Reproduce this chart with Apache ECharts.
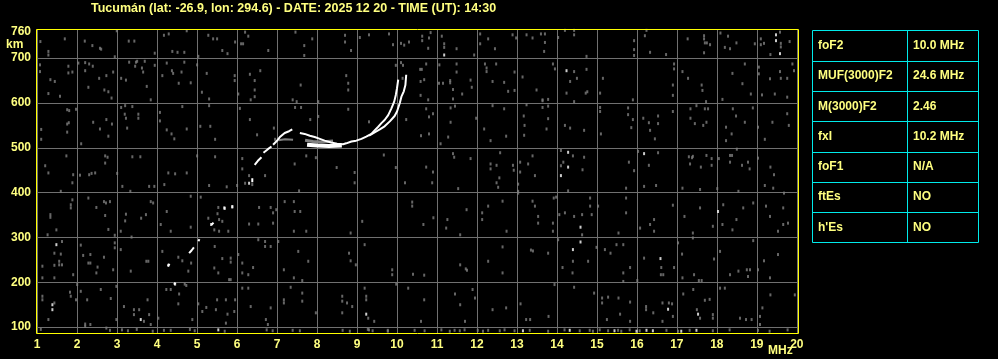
<!DOCTYPE html>
<html><head><meta charset="utf-8">
<script src="https://cdn.jsdelivr.net/npm/echarts@6/dist/echarts.min.js"></script>
<style>html,body{margin:0;padding:0;background:#000;}#c{width:998px;height:359px;}</style>
</head><body><div id="c"></div>
<script>
const titleText = 'Tucumán (lat: -26.9, lon: 294.6) - DATE: 2025 12 20 - TIME (UT): 14:30';
const freqTicks = [1,2,3,4,5,6,7,8,9,10,11,12,13,14,15,16,17,18,19,20];
const heightTicks = [100,200,300,400,500,600,700];
const heightLabels = [100,200,300,400,500,600,700,760];
const xUnit = 'MHz';
const yUnit = 'km';
const tableLabels = ['foF2','MUF(3000)F2','M(3000)F2','fxI','foF1','ftEs',"h'Es"];
const tableValues = ['10.0 MHz','24.6 MHz','2.46','10.2 MHz','N/A','NO','NO'];

// echo trace (O mode) segments, frequency MHz / virtual height km
const traceLow = [[4.27,236],[4.31,241],null,[4.42,195],[4.46,199],null,[4.8,265],[4.86,271],[4.92,278],null,[5.03,292],[5.06,296],null,[5.36,328],[5.41,333],null,[6.38,423],[6.38,432],null,[6.44,462],[6.52,471],[6.61,479],null,[6.66,489],[6.77,497],[6.86,503]];
const traceHook = [[6.9,507],[6.98,514],[7.07,524],[7.19,533],[7.3,537],[7.38,541]];
const grayHook = [[7.03,517],[7.2,519],[7.4,518]];
const traceMain = [[7.57,533],[7.69,531],[7.82,527],[7.94,524],[8.07,520],[8.19,516],[8.35,512],[8.5,509],[8.65,508],[8.73,510],[8.86,514],[8.98,516],[9.11,520],[9.23,525],[9.36,531],[9.44,539],[9.53,547],[9.61,555],[9.69,562],[9.78,573],[9.86,588],[9.93,603],[9.97,618],[10.0,633],[10.03,652]];
const traceX = [[9.3,527],[9.45,535],[9.57,541],[9.69,548],[9.82,559],[9.94,571],[10.0,581],[10.07,600],[10.11,614],[10.17,626],[10.21,640],[10.23,663]];
const traceBand = [[7.75,507],[8.0,505],[8.3,504],[8.62,505]];
const grayBand = [[7.7,517],[7.9,514],[8.1,513],[8.4,515]];

const noise = [
[1.08,737],[1.28,715],[1.28,707],[1.69,743],[2.19,738],[2.38,728],[2.57,722],[2.6,720],[2.94,703],[2.99,761],[3.29,738],[3.43,738],[3.94,711],[4.17,751],[4.29,754],[4.38,715],[4.51,713],[4.68,713],[4.74,761],[5.03,704],[5.28,751],[5.4,743],[5.5,743],[5.63,717],[5.76,710],[5.95,736],[6.1,732],[6.15,732],[6.2,758],[6.28,749],[6.78,717],[7.46,758],[7.68,728],[7.68,706],[7.88,743],[8.7,751],[8.7,736],[8.85,717],[9.07,746],[9.3,752],[9.8,754],[9.9,730],[10.1,733],[10.18,729],[10.3,736],
[1.07,685],[1.07,670],[1.33,652],[1.44,648],[1.28,621],[1.57,615],[1.78,682],[1.78,667],[1.88,669],[2.03,689],[2.2,690],[2.3,687],[2.2,672],[2.28,635],[2.39,682],[2.55,655],[2.73,661],[2.68,629],[2.78,625],[2.9,669],[2.86,611],[3.1,655],[3.22,651],[3.3,691],[3.47,691],[3.45,682],[3.5,693],[3.62,678],[3.69,693],[3.65,669],[3.74,637],[3.84,607],[3.94,684],[4.13,661],[4.24,689],[4.37,672],[4.4,666],[4.54,644],[4.61,669],[4.68,691],[4.84,645],[5.0,685],[5.12,624],[5.24,666],[5.3,609],[5.94,661],[5.94,650],[6.03,620],[6.32,664],[6.44,650],[6.44,629],[6.58,672],[6.44,614],[6.34,607],[7.39,607],[7.49,603],[7.59,640],[8.03,603],[8.73,661],[8.78,644],[8.78,629],[9.97,684],[10.1,690],[10.15,684],[10.14,655],
[1.1,541],[1.1,519],[1.75,585],[1.75,553],[1.79,556],[1.8,583],[1.97,586],[1.75,535],[2.1,509],[2.4,557],[2.57,542],[2.73,563],[2.78,526],[2.87,553],[3.1,590],[3.2,594],[3.22,566],[3.25,544],[3.19,575],[3.38,592],[3.53,575],[3.53,566],[4.07,579],[4.07,560],[4.24,540],[4.36,531],[4.43,520],[4.63,592],[4.74,542],[5.08,548],[5.3,594],[5.33,548],[5.45,519],[6.07,588],[6.32,563],[6.5,529],[6.92,544],[6.95,519],[7.45,590],[7.6,590],[7.83,563],[8.03,570],[8.78,586],[9.3,558],[10.23,563],
[1.2,460],[1.28,444],[1.73,482],[1.9,440],[2.07,439],[2.3,440],[2.36,443],[2.45,444],[2.7,482],[2.76,479],[2.7,466],[3.0,443],[3.38,480],[3.58,480],[4.28,444],[4.45,442],[4.74,444],[5.0,482],[5.45,480],[6.13,476],[6.13,453],[6.3,438],[6.7,438],[7.44,464],[7.73,482],[7.97,478],[8.49,456],[8.94,445],[9.67,484],[9.97,456],
[10.63,749],[10.63,739],[10.8,745],[10.84,757],[10.78,722],[11.12,749],[11.18,732],[11.18,724],[11.49,721],[11.93,707],[12.08,754],[12.08,732],[12.28,743],[12.45,721],[12.89,752],[12.98,745],[13.24,752],[13.39,745],[13.6,754],[13.7,754],[13.7,735],[13.68,715],[14.03,746],[14.2,762],[14.43,762],[14.43,752],[14.74,704],[15.93,739],[15.93,719],[15.93,706],[16.2,750],[16.24,762],[16.33,713],[16.73,708],[17.27,743],[17.68,750],[17.68,743],[17.7,734],[17.75,734],[17.83,730],[17.68,712],[18.09,756],[18.28,749],[18.49,734],[18.2,724],[18.33,721],[18.95,732],[19.1,730],[19.18,733],[19.1,743],[19.58,758],[19.34,708],[19.6,733],[19.6,725],[19.82,737],
[10.58,675],[10.62,675],[10.73,687],[10.59,648],[10.68,652],[10.59,617],[10.78,607],[11.06,685],[11.05,644],[11.15,644],[11.33,645],[11.33,650],[11.49,687],[11.49,669],[11.4,630],[11.4,609],[11.63,620],[11.84,651],[11.87,635],[12.2,687],[12.24,678],[12.24,670],[12.48,687],[12.39,648],[12.68,646],[12.78,626],[12.94,628],[12.94,669],[13.14,658],[13.49,629],[13.64,607],[13.78,608],[13.9,687],[13.95,676],[14.43,670],[14.33,648],[14.5,655],[14.74,675],[14.72,622],[14.76,625],[14.24,622],[14.43,603],[15.15,655],[15.08,622],[15.9,607],[16.93,687],[16.93,676],[16.9,640],[16.9,617],[17.14,670],[17.28,655],[17.62,640],[17.64,628],[17.73,603],[18.14,608],[18.39,666],[18.64,643],[18.7,687],[18.85,620],[19.05,680],[19.05,665],[19.13,618],[19.33,654],[19.45,620],[19.58,670],[19.6,655],[19.76,655],[19.76,613],[19.89,687],[19.93,672],
[10.73,587],[10.9,576],[10.8,569],[11.34,589],[11.45,593],[11.34,557],[10.6,527],[10.8,531],[11.09,509],[11.28,524],[11.98,566],[12.18,542],[12.39,594],[12.68,587],[12.34,516],[12.73,526],[13.24,596],[13.17,571],[13.19,550],[13.18,528],[13.64,605],[13.64,590],[13.78,593],[13.78,565],[13.74,542],[14.2,550],[14.33,544],[14.68,539],[15.08,590],[15.08,581],[15.1,531],[15.78,589],[15.78,574],[15.9,563],[15.86,545],[16.16,566],[16.3,556],[16.33,539],[16.45,520],[16.53,571],[16.53,554],[16.9,581],[17.34,587],[17.34,566],[17.49,594],[17.7,587],[17.78,587],[17.45,554],[17.66,550],[17.74,557],[18.23,546],[18.23,516],[18.37,531],[18.4,587],[18.48,571],[18.7,557],[18.9,589],[19.03,546],[19.2,519],[19.39,557],[19.76,576],[19.8,550],
[10.73,457],[10.9,446],[11.4,487],[11.43,479],[11.84,476],[12.34,464],[12.34,453],[12.49,461],[12.58,489],[12.56,433],[12.9,461],[12.92,450],[13.08,468],[13.08,446],[13.28,464],[13.39,482],[13.45,438],[14.1,494],[14.1,460],[14.16,468],[14.4,482],[14.68,479],[14.64,451],[15.8,468],[15.93,449],[16.03,492],[16.3,461],[16.53,489],[17.3,480],[17.38,478],[17.4,481],[17.33,464],[17.6,457],[17.74,483],[17.87,476],[17.87,461],[18.05,476],[18.33,483],[18.38,483],[18.33,468],[18.5,497],[18.63,461],[18.78,468],[18.82,453],[19.03,477],[19.34,457],[19.43,440],
[1.59,403],[1.88,422],[3.13,414],[3.8,414],[3.93,414],[4.18,418],[5.3,416],[5.74,413],[6.0,416],[6.2,421],[6.38,418],[7.55,404],[8.94,422],[10.2,422],
[1.33,351],[1.33,345],[1.26,306],[1.48,317],[1.84,373],[1.84,366],[1.88,384],[2.28,388],[2.48,367],[2.67,380],[2.72,377],[2.7,349],[2.82,380],[2.78,318],[2.94,305],[3.22,352],[3.2,337],[3.33,403],[3.36,301],[3.09,314],[3.6,343],[3.72,351],[3.84,380],[3.9,377],[4.09,329],[4.24,358],[4.34,314],[4.84,392],[4.84,323],[5.09,390],[5.28,343],[5.51,353],[5.53,367],[5.55,340],[5.63,336],[5.78,314],[5.55,314],[5.43,317],[6.3,330],[6.53,330],[6.55,367],[6.84,367],[6.9,355],[6.9,332],[6.98,362],[7.19,380],[7.42,380],[7.44,358],[7.58,358],[7.42,314],[7.73,314],[8.84,310],[9.13,336],[10.38,379],[10.38,370],
[1.62,291],[1.43,265],[1.59,263],[1.55,247],[1.55,239],[1.62,239],[1.13,236],[1.43,238],[1.13,210],[1.43,210],[1.9,217],[2.09,283],[2.15,260],[2.28,243],[2.33,243],[2.33,262],[2.48,221],[2.51,234],[2.67,256],[2.9,228],[2.94,288],[2.94,277],[3.09,273],[3.34,225],[3.73,247],[3.78,247],[4.13,269],[4.53,256],[4.63,248],[4.85,243],[4.78,225],[5.44,280],[5.43,232],[5.53,221],[5.8,206],[5.84,206],[5.63,253],[5.84,254],[5.84,245],[6.03,262],[6.13,243],[6.13,221],[6.28,217],[6.4,233],[6.53,295],[6.7,291],[6.7,280],[6.84,280],[7.03,291],[7.17,228],[7.42,210],[7.53,269],[7.63,204],[7.78,247],[8.8,265],[8.84,248],[8.97,239],[9.19,284],[9.88,228],[9.88,217],[10.4,218],
[1.13,169],[1.13,161],[1.43,154],[1.28,117],[1.82,178],[1.84,169],[1.97,161],[2.0,195],[2.09,180],[2.2,107],[2.2,102],[2.33,106],[2.25,161],[2.59,184],[2.73,98],[2.84,164],[2.98,191],[2.98,117],[3.17,146],[3.12,94],[3.42,139],[3.42,128],[3.55,139],[3.67,113],[3.8,128],[3.76,161],[3.84,106],[4.03,120],[4.23,184],[4.34,184],[4.55,174],[4.53,152],[4.69,196],[4.73,193],[4.88,117],[5.03,152],[5.13,135],[5.23,144],[5.47,139],[5.5,161],[5.72,161],[5.95,161],[5.76,129],[5.93,135],[5.72,109],[6.13,187],[6.28,187],[6.34,146],[6.72,117],[6.77,106],[6.84,143],[7.17,161],[7.17,154],[7.34,189],[7.63,176],[7.63,158],[7.97,132],[8.63,169],[8.63,158],[8.63,132],[8.75,154],[8.88,146],[9.19,187],[9.23,169],[9.23,161],[9.28,120],[9.43,113],[9.3,94],[9.77,91],[9.98,196],[10.28,187],
[10.88,422],[11.53,409],[12.49,422],[12.53,412],[13.03,419],[13.03,403],[14.28,404],[15.73,410],[16.18,414],[16.48,416],[17.14,410],[17.58,407],[18.01,409],[18.54,403],[19.2,416],[19.41,410],[19.68,399],
[10.66,329],[10.91,344],[11.26,340],[11.23,321],[11.58,306],[11.74,362],[12.13,355],[12.13,340],[12.28,370],[12.64,381],[12.74,314],[13.03,399],[13.39,381],[13.45,370],[13.53,347],[13.53,332],[13.92,388],[13.98,390],[13.9,332],[13.9,314],[14.06,351],[14.2,355],[14.43,347],[14.63,351],[14.63,306],[14.83,388],[14.83,370],[14.87,351],[15.03,370],[15.73,388],[15.73,355],[15.54,310],[16.08,321],[16.33,329],[16.43,340],[16.43,314],[16.9,372],[17.19,347],[17.4,310],[17.4,299],[17.58,366],[17.9,325],[18.16,373],[18.14,329],[18.39,317],[18.49,340],[18.66,366],[18.91,377],[19.23,370],[19.33,347],[19.53,314],[19.66,366],[19.66,329],[19.78,332],
[10.68,216],[11.58,239],[11.72,230],[11.75,227],[12.28,247],[12.64,279],[12.64,221],[13.35,272],[13.4,270],[13.78,265],[14.03,295],[14.14,233],[14.4,247],[14.78,247],[14.39,221],[14.99,278],[15.2,273],[15.34,265],[15.49,284],[15.66,284],[15.66,221],[15.66,202],[15.83,233],[16.01,204],[16.18,254],[16.6,217],[16.66,217],[16.61,233],[16.93,233],[17.03,288],[17.13,263],[17.14,210],[17.43,217],[17.55,204],[17.62,204],[17.93,252],[18.08,269],[18.33,217],[18.54,225],[18.75,228],[18.83,228],[18.78,213],[18.91,293],[19.03,228],[19.18,248],[19.33,210],[19.53,262],
[10.68,161],[10.6,113],[11.45,174],[11.58,150],[11.7,113],[11.89,184],[11.95,165],[12.39,139],[12.73,143],[13.09,152],[13.23,117],[13.33,117],[13.79,124],[13.94,195],[14.43,189],[14.93,176],[15.13,165],[15.13,154],[15.28,167],[15.54,165],[15.83,156],[15.25,117],[15.58,129],[15.83,113],[16.23,146],[16.23,139],[16.41,132],[16.64,154],[16.64,113],[16.8,154],[16.88,152],[16.9,124],[17.16,174],[17.41,184],[17.58,120],[17.5,139],[17.7,160],[17.82,162],[17.9,128],[17.9,120],[18.08,187],[18.2,187],[18.58,120],[18.73,117],[18.87,117],[19.08,124],[19.08,106],[19.14,143],[19.34,172],[19.95,172],
[1.09,95],[2.82,93],[3.27,92],[3.49,95],[3.89,91],[4.17,93],[4.34,93],[4.82,95],[4.94,92],[5.69,91],[6.74,94],[6.89,92],[7.39,93],[7.57,92],[8.64,93],[8.82,91],[9.27,95],[9.39,92],[9.77,93],[10.44,93],[10.69,92],[11.11,94],[11.32,91],[11.44,93],[11.57,92],[11.69,94],[12.02,93],[12.15,91],[12.28,93],[12.57,92],[12.69,94],[12.94,92],[13.32,93],[13.78,91],[14.19,94],[14.57,92],[14.82,93],[14.9,91],[15.07,94],[15.28,92],[15.53,93],[15.61,91],[15.82,94],[16.07,92],[16.74,93],[17.03,91],[17.32,93],[17.9,92],[18.32,94],[19.03,93],[19.32,91],[19.77,94]
];
const specks = [[11.18,707],[19.48,752],[19.48,739],[19.58,710],[14.24,672],[14.1,438],[14.28,490],[14.28,457],[16.18,487],[6.3,421],[5.68,366],[5.88,368],[5.35,329],[1.48,284],[4.28,238],[1.38,150],[1.38,139],[3.59,117],[4.45,196],[5.53,94],[9.23,129],[14.59,323],[18.03,358],[14.4,273],[14.59,290],[16.59,253],[16.78,140],[17.53,129],[5.69,365],[5.88,369],[13.15,92],[14.32,93],[15.44,92],[15.99,91],[16.24,93],[16.4,92],[17.11,91],[17.49,93]];

const LABEL = '#ffff80', FONT = 'Liberation Sans';
const chart = echarts.init(document.getElementById('c'));
const gap = d => d.map(p => p ? p : ['-','-']);
const lineS = (data, color, w) => ({type:'line', data: gap(data), showSymbol:false, symbol:'none', connectNulls:false, silent:true, lineStyle:{color, width:w}, z:3});

const tbl = {x:812.5, y:30.5, w:166, h:212, col:907.5};
const rowH = tbl.h / tableLabels.length;
const graphics = [
  {type:'text', left:6, top:39, style:{text:yUnit, fill:LABEL, font:'bold 12px '+FONT}},
  {type:'text', left:768, top:345, style:{text:xUnit, fill:LABEL, font:'bold 12px '+FONT}},
  {type:'rect', z:100, shape:{x:36.5, y:29.5, width:762, height:304}, style:{fill:'none', stroke:'#ffff00', lineWidth:1}},
  {type:'rect', shape:{x:tbl.x, y:tbl.y, width:tbl.w, height:tbl.h}, style:{fill:'none', stroke:'#00eaea', lineWidth:1}},
  {type:'line', shape:{x1:tbl.col, y1:tbl.y, x2:tbl.col, y2:tbl.y+tbl.h}, style:{stroke:'#00eaea', lineWidth:1}}
];
tableLabels.forEach((lab, i) => {
  const y = tbl.y + rowH * i;
  if (i > 0) graphics.push({type:'line', shape:{x1:tbl.x, y1:Math.round(y)+0.5, x2:tbl.x+tbl.w, y2:Math.round(y)+0.5}, style:{stroke:'#00eaea', lineWidth:1}});
  graphics.push({type:'text', x:818, y:y + rowH/2, style:{text:lab, fill:LABEL, font:'bold 12px '+FONT, textVerticalAlign:'middle', verticalAlign:'middle'}});
  graphics.push({type:'text', x:913, y:y + rowH/2, style:{text:tableValues[i], fill:LABEL, font:'bold 12px '+FONT, textVerticalAlign:'middle', verticalAlign:'middle'}});
});

chart.setOption({
  backgroundColor:'#000',
  animation:false,
  title:{text:titleText, left:91, top:2, padding:0, textStyle:{color:LABEL, fontSize:12.5, fontWeight:'bold', fontFamily:FONT}},
  grid:{left:36, top:29, width:762, height:304, show:false},
  xAxis:{type:'value', min:0.97, max:20.03,
    axisLine:{show:false}, axisTick:{show:false, customValues:freqTicks},
    axisLabel:{customValues:freqTicks, color:LABEL, fontSize:12, fontWeight:'bold', fontFamily:FONT, margin:6},
    splitLine:{show:true, lineStyle:{color:'#707070', width:1}}},
  yAxis:{type:'value', min:87, max:765,
    axisLine:{show:false}, axisTick:{show:false, customValues:heightTicks},
    axisLabel:{customValues:heightLabels, color:LABEL, fontSize:12, fontWeight:'bold', fontFamily:FONT, margin:5},
    splitLine:{show:true, lineStyle:{color:'#707070', width:1}}},
  graphic: graphics,
  series:[
    {type:'scatter', data:noise, symbol:'rect', symbolSize:[2,3], itemStyle:{color:'#808080'}, silent:true, z:2},
    {type:'scatter', data:specks, symbol:'rect', symbolSize:[2,3], itemStyle:{color:'#ffffff'}, silent:true, z:2},
    lineS(grayHook, '#808080', 2),
    lineS(grayBand, '#808080', 3),
    lineS(traceLow, '#ffffff', 2),
    lineS(traceHook, '#ffffff', 2),
    lineS(traceMain, '#ffffff', 2),
    lineS(traceX, '#ffffff', 2),
    lineS(traceBand, '#ffffff', 4)
  ]
});
</script></body></html>
